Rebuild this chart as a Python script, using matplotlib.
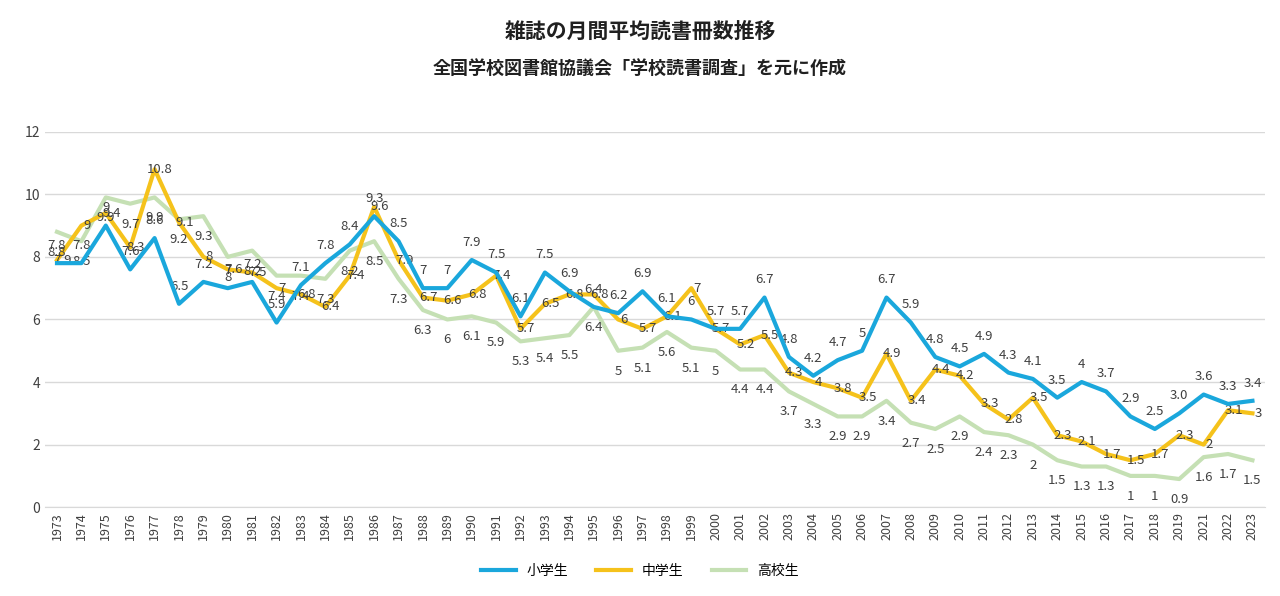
import matplotlib
matplotlib.use("Agg")
import matplotlib.pyplot as plt

plt.rcParams['font.family'] = ['Noto Sans CJK JP', 'DejaVu Sans']

years = [str(y) for y in range(1973, 2020)] + ["2021", "2022", "2023"]
elem = [7.8, 7.8, 9.0, 7.6, 8.6, 6.5, 7.2, 7.0, 7.2, 5.9, 7.1, 7.8, 8.4, 9.3, 8.5, 7.0, 7.0, 7.9, 7.5, 6.1,
        7.5, 6.9, 6.4, 6.2, 6.9, 6.1, 6.0, 5.7, 5.7, 6.7, 4.8, 4.2, 4.7, 5.0, 6.7, 5.9, 4.8, 4.5, 4.9, 4.3,
        4.1, 3.5, 4.0, 3.7, 2.9, 2.5, 3.0, 3.6, 3.3, 3.4]
mid = [7.9, 9.0, 9.4, 8.3, 10.8, 9.1, 8.0, 7.6, 7.5, 7.0, 6.8, 6.4, 7.4, 9.6, 7.9, 6.7, 6.6, 6.8, 7.4, 5.7,
       6.5, 6.8, 6.8, 6.0, 5.7, 6.1, 7.0, 5.7, 5.2, 5.5, 4.3, 4.0, 3.8, 3.5, 4.9, 3.4, 4.4, 4.2, 3.3, 2.8,
       3.5, 2.3, 2.1, 1.7, 1.5, 1.7, 2.3, 2.0, 3.1, 3.0]
high = [8.8, 8.5, 9.9, 9.7, 9.9, 9.2, 9.3, 8.0, 8.2, 7.4, 7.4, 7.3, 8.2, 8.5, 7.3, 6.3, 6.0, 6.1, 5.9, 5.3,
        5.4, 5.5, 6.4, 5.0, 5.1, 5.6, 5.1, 5.0, 4.4, 4.4, 3.7, 3.3, 2.9, 2.9, 3.4, 2.7, 2.5, 2.9, 2.4, 2.3,
        2.0, 1.5, 1.3, 1.3, 1.0, 1.0, 0.9, 1.6, 1.7, 1.5]
elem_lbl = [f"{v:g}" for v in elem]
elem_lbl[years.index("2019")] = "3.0"

fig = plt.figure(figsize=(12.8, 5.96), dpi=100)
ax = fig.add_axes([0.035, 0.149, 0.953, 0.63])
x = list(range(len(years)))
ax.plot(x, high, color='#c5e0b4', lw=3, label='高校生', zorder=2)
ax.plot(x, mid, color='#f5c21b', lw=3, label='中学生', zorder=3)
ax.plot(x, elem, color='#1aa7dc', lw=3, label='小学生', zorder=4)

tc = '#404040'
for i in x:
    ax.annotate(elem_lbl[i], (i, elem[i]), xytext=(0, 8), textcoords='offset points', ha='center', va='bottom', fontsize=9.5, color=tc)
    ax.annotate(f"{mid[i]:g}", (i, mid[i]), xytext=(4, 0), textcoords='offset points', ha='center', va='center', fontsize=9.5, color=tc)
    ax.annotate(f"{high[i]:g}", (i, high[i]), xytext=(0, -10), textcoords='offset points', ha='center', va='top', fontsize=9.5, color=tc)

ax.set_ylim(0, 12)
ax.set_yticks(range(0, 13, 2))
ax.set_xlim(-0.5, len(years) - 0.5)
ax.set_xticks(x)
ax.set_xticklabels(years, rotation=90, fontsize=9, color=tc)
ax.tick_params(axis='y', labelsize=10, colors=tc, length=0)
ax.tick_params(axis='x', length=0)
ax.grid(axis='y', color='#d9d9d9', lw=1)
ax.set_axisbelow(True)
for s in ['top', 'right', 'left']:
    ax.spines[s].set_visible(False)
ax.spines['bottom'].set_color('#d9d9d9')

h, l = ax.get_legend_handles_labels()
fig.legend(h[::-1], l[::-1], loc='center', bbox_to_anchor=(0.5, 0.042), ncol=3, frameon=False, fontsize=10, handlelength=2.5)
fig.text(0.5, 0.948, '雑誌の月間平均読書冊数推移', ha='center', va='center', fontsize=15, fontweight='bold', color='#202020')
fig.text(0.5, 0.885, '全国学校図書館協議会「学校読書調査」を元に作成', ha='center', va='center', fontsize=13, fontweight='bold', color='#202020')
fig.savefig('out.png', dpi=100)
